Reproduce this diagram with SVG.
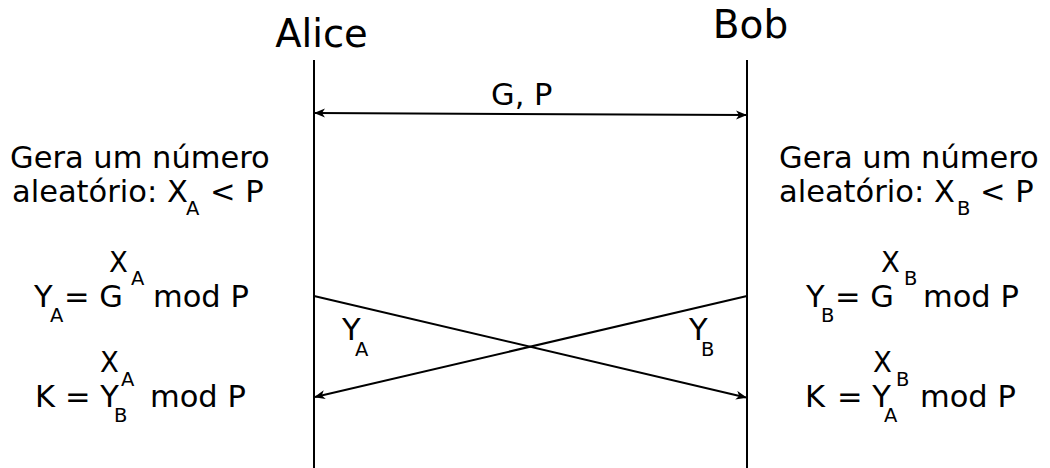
<svg xmlns="http://www.w3.org/2000/svg" width="1050" height="468" viewBox="0 0 1050 468">
<style>
text{font-family:"DejaVu Sans","Liberation Sans",sans-serif;fill:#000}
.m{font-size:30.5px}
.s{font-size:19.5px}
.x{font-size:27.5px}
.h{font-size:38.5px;text-anchor:middle}
.ln{stroke:#000;stroke-width:2;fill:none}
</style>
<defs>
<marker id="ah" markerUnits="userSpaceOnUse" markerWidth="12" markerHeight="10" refX="10" refY="4.5" orient="auto-start-reverse" viewBox="0 0 12 10">
<path d="M0,0 L11,4.5 L0,9 L3,4.5 Z" fill="#000"/>
</marker>
</defs>
<rect width="1050" height="468" fill="#fff"/>
<g id="alice">
<text class="h" x="321.5" y="47">Alice</text>
<line class="ln" x1="314" y1="60" x2="314" y2="468"/>
</g>
<g id="bob">
<text class="h" x="750.5" y="38" style="font-size:39px">Bob</text>
<line class="ln" x1="747" y1="60" x2="747" y2="468"/>
</g>
<g id="connectors">
<line class="ln" x1="315" y1="113" x2="746" y2="115" marker-start="url(#ah)" marker-end="url(#ah)"/>
<line class="ln" x1="314" y1="296" x2="746" y2="397.5" marker-end="url(#ah)"/>
<line class="ln" x1="747" y1="296" x2="315" y2="397" marker-end="url(#ah)"/>
<text class="m" x="491" y="105">G, P</text>
<text class="m" x="342" y="340">Y</text><text class="s" x="355" y="356">A</text>
<text class="m" x="689" y="340">Y</text><text class="s" x="701" y="356">B</text>
</g>
<g id="alice-notes">
<text class="m" x="10" y="168">Gera um número</text>
<text class="m" x="12" y="202">aleatório: X</text><text class="s" x="186" y="215">A</text><text class="m" x="210" y="202">&lt; P</text>
<text class="m" x="34" y="307">Y</text><text class="s" x="50" y="322">A</text>
<text class="m" x="64" y="307">= G</text>
<text class="x" x="109" y="272">X</text><text class="s" x="131" y="285">A</text>
<text class="m" x="153" y="307">mod P</text>
<text class="m" x="35" y="407">K</text>
<text class="m" x="65" y="407">= Y</text><text class="s" x="114" y="422">B</text>
<text class="x" x="100" y="372">X</text><text class="s" x="121" y="386">A</text>
<text class="m" x="150" y="407">mod P</text>
</g>
<g id="bob-notes">
<text class="m" x="779" y="168">Gera um número</text>
<text class="m" x="779" y="202">aleatório: X</text><text class="s" x="957" y="215">B</text><text class="m" x="980" y="202">&lt; P</text>
<text class="m" x="806" y="307">Y</text><text class="s" x="821" y="322">B</text>
<text class="m" x="835" y="307">= G</text>
<text class="x" x="881" y="272">X</text><text class="s" x="904" y="285">B</text>
<text class="m" x="923" y="307">mod P</text>
<text class="m" x="805" y="407">K</text>
<text class="m" x="837" y="407">= Y</text><text class="s" x="884" y="422">A</text>
<text class="x" x="873" y="372">X</text><text class="s" x="896" y="386">B</text>
<text class="m" x="920" y="407">mod P</text>
</g>
</svg>
